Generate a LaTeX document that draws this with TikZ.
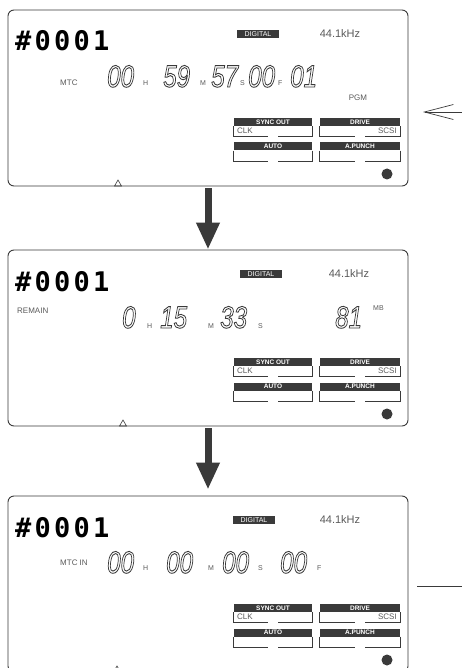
\documentclass[tikz,border=0pt]{standalone}
\usepackage{fontspec}
\setmainfont{Liberation Sans}
\newfontfamily\lcdfont[LetterSpace=12]{DejaVu Sans Mono}
\usepackage{graphicx}
\usetikzlibrary{arrows.meta, positioning}
\definecolor{lcdInk}{HTML}{3A3A3A}
\definecolor{lcdGrey}{HTML}{5A5A5A}
\newcommand\segdigits[1]{\scalebox{0.78}[1]{\special{pdf:literal direct 1 Tr 0.9 w}#1\special{pdf:literal direct 0 Tr}}}

\begin{document}
\begin{tikzpicture}[
    x=1pt, y=-1pt,
    panel/.style={
      draw=lcdInk,
      line width=0.9pt,
      rounded corners=6pt,
      minimum width=400pt,
      minimum height=176pt,
      inner sep=0pt,
    },
    lcd/.style={font=\lcdfont\bfseries\fontsize{27}{30}\selectfont, text=black, anchor=base west, inner sep=0pt},
    seg/.style={font=\itshape\fontsize{31}{34}\selectfont, text=lcdInk, anchor=base west, inner sep=0pt},
    unit/.style={font=\fontsize{7}{8}\selectfont, text=lcdGrey, anchor=base west, inner sep=0pt},
    lbl/.style={font=\fontsize{8}{9}\selectfont, text=lcdGrey, inner sep=0pt},
    tag/.style={fill=lcdInk, text=white, font=\fontsize{7}{8}\selectfont, minimum width=42pt, minimum height=8pt, inner sep=0pt},
    khz/.style={font=\fontsize{11}{12}\selectfont, text=lcdGrey, inner sep=0pt},
    hdr/.style={fill=lcdInk, text=white, font=\bfseries\fontsize{6.5}{7}\selectfont, minimum height=8pt, inner sep=0pt},
    btn/.style={draw=lcdInk, line width=0.7pt},
    led/.style={circle, fill=lcdInk, minimum size=11pt, inner sep=0pt},
    bigarr/.style={draw=lcdInk, line width=7pt, -{Triangle[length=27pt, width=22pt]}},
    cue/.style={draw=lcdInk, line width=0.7pt, -{Straight Barb[length=29pt, width=15pt]}},
  ]
    \fill[white] (0,0) rectangle (462,668);
    \useasboundingbox (0,0) rectangle (462,668);
    \clip (0,0) rectangle (462,668);

    % parts every screen shares
    \foreach \t/\dx/\kx/\tx [count=\i] in {10/258/340/118, 250/261/349/123, 496/254/340/117} {
      \node[panel] (pan\i) at (208, \t+88) {};
      \node[lcd] (num\i) at (15, \t+41) {\#0001};
      \node[tag] (dig\i) at (\dx, \t+24) {DIGITAL};
      \node[khz] (khz\i) at (\kx, \t+24) {44.1kHz};
      \foreach \name/\txt/\bx/\by/\bw/\bh in {sync/SYNC OUT/273/112/78/10, drive/DRIVE/360/112/80/10,
                                              auto/AUTO/273/136.5/78/10.5, punch/A.PUNCH/360/136.5/80/10.5} {
        \node[hdr, minimum width=\bw pt] (\name\i) at (\bx, \t+\by) {\txt};
        \draw[btn] (\name\i.south west) -- ++(0,\bh) -- ++(\bw/2-5,0);
        \draw[btn] (\name\i.south east) -- ++(0,\bh) -- ++(-\bw/2+5,0);
      }
      \node[lbl, anchor=west] (clk\i) at (237, \t+121) {CLK};
      \node[lbl, anchor=east] (scsi\i) at (397, \t+121) {SCSI};
      \node[led] (led\i) at (387, \t+164) {};
      \draw[lcdInk, line width=0.6pt] (\tx-3.5, \t+176) -- (\tx, \t+170) -- (\tx+3.5, \t+176) -- cycle;
    }

    % Screen 1
    \node[lbl, anchor=base west] (mtc) at (60, 86) {MTC};
    \node[seg] (h1) at (107, 87) {\segdigits{00}};
    \node[unit] (uh1) at (143, 86) {H};
    \node[seg] (m1) at (163, 87) {\segdigits{59}};
    \node[unit] (um1) at (200, 86) {M};
    \node[seg] (s1) at (211, 87) {\segdigits{57}};
    \node[unit] (us1) at (240, 86) {S};
    \node[seg] (f1) at (248, 87) {\segdigits{00}};
    \node[unit] (uf1) at (278, 86) {F};
    \node[seg] (pgmno) at (290, 87) {\segdigits{01}};
    \node[lbl] (pgm) at (358, 98) {PGM};

    \coordinate (cueEnd) at (462, 112);
    \coordinate (cueTip) at (423, 112);
    \draw[cue] (cueEnd) -- (cueTip);

    % Screen 2
    \node[lbl, anchor=base west] (remain) at (17, 313) {REMAIN};
    \node[seg] (h2) at (122, 328) {\segdigits{0}};
    \node[unit] (uh2) at (147, 328) {H};
    \node[seg] (m2) at (160, 328) {\segdigits{15}};
    \node[unit] (um2) at (208, 328) {M};
    \node[seg] (s2) at (220, 328) {\segdigits{33}};
    \node[unit] (us2) at (258, 328) {S};
    \node[seg] (mb) at (335, 328) {\segdigits{81}};
    \node[unit] (umb) at (373, 310) {MB};

    % Screen 3
    \node[lbl, anchor=base west] (mtcin) at (60, 565) {MTC IN};
    \node[seg] (h3) at (107, 573) {\segdigits{00}};
    \node[unit] (uh3) at (143, 570) {H};
    \node[seg] (m3) at (166, 573) {\segdigits{00}};
    \node[unit] (um3) at (208, 570) {M};
    \node[seg] (s3) at (222, 573) {\segdigits{00}};
    \node[unit] (us3) at (258, 570) {S};
    \node[seg] (f3) at (280, 573) {\segdigits{00}};
    \node[unit] (uf3) at (317, 570) {F};

    \coordinate (markL) at (417, 586);
    \coordinate (markR) at (462, 586);
    \draw[lcdInk, line width=0.8pt] (markL) -- (markR);

    % screen to screen
    \draw[bigarr, shorten <=2pt] (pan1.south) -- (pan2.north);
    \draw[bigarr, shorten <=2pt, shorten >=6pt] (pan2.south) -- (pan3.north);
  \end{tikzpicture}
\end{document}
